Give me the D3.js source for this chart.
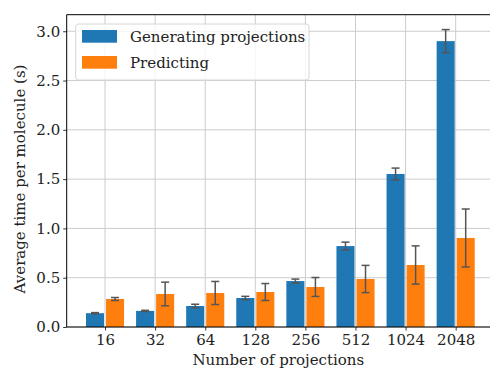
<!DOCTYPE html>
<html>
<head>
<meta charset="utf-8">
<script src="https://cdn.jsdelivr.net/npm/d3@7"></script>
<style>
  html, body { margin: 0; padding: 0; background: #fff; }
  svg { display: block; }
</style>
</head>
<body>
<svg id="chart" width="490" height="370"></svg>
<script>
// Number of projections per molecule
const categories = ["16", "32", "64", "128", "256", "512", "1024", "2048"];
// Average time per molecule (s) and its spread
const generating = [0.140, 0.163, 0.213, 0.294, 0.466, 0.821, 1.552, 2.900];
const generatingErr = [0.006, 0.006, 0.018, 0.017, 0.020, 0.040, 0.060, 0.117];
const predicting = [0.284, 0.335, 0.345, 0.355, 0.406, 0.487, 0.629, 0.903];
const predictingErr = [0.015, 0.120, 0.117, 0.086, 0.096, 0.138, 0.194, 0.294];
const yTicks = [0, 0.5, 1.0, 1.5, 2.0, 2.5, 3.0];
const seriesNames = ["Generating projections", "Predicting"];
const colors = ["#1f77b4", "#ff7f0e"];

const svg = d3.select("#chart");
const serif = "'DejaVu Serif', serif";
const fontSize = 15;

const plot = { left: 66.7, right: 494, top: 14.7, bottom: 327 };

const x = d3.scaleLinear().domain([-0.765, categories.length - 1 + 0.765]).range([plot.left, plot.right]);
const y = d3.scaleLinear().domain([0, 3.168]).range([plot.bottom, plot.top]);

const barW = 0.36, barOff = 0.02;

// Grid lines
const grid = svg.append("g").attr("stroke", "#cccccc").attr("stroke-width", 1);
grid.selectAll("line.h").data(yTicks).join("line")
  .attr("x1", plot.left).attr("x2", plot.right)
  .attr("y1", d => y(d)).attr("y2", d => y(d));
grid.selectAll("line.v").data(categories).join("line")
  .attr("x1", (d, i) => x(i)).attr("x2", (d, i) => x(i))
  .attr("y1", plot.top).attr("y2", plot.bottom);

const series = [
  { values: generating, err: generatingErr, shift: -(barOff + barW), color: colors[0] },
  { values: predicting, err: predictingErr, shift: barOff, color: colors[1] }
];

series.forEach(s => {
  const g = svg.append("g");
  g.selectAll("rect").data(s.values).join("rect")
    .attr("x", (d, i) => x(i + s.shift))
    .attr("width", x(barW) - x(0))
    .attr("y", d => y(d))
    .attr("height", d => y(0) - y(d))
    .attr("fill", s.color);
  const cap = 4;
  const eb = svg.append("g").attr("stroke", "#555").attr("stroke-width", 1.5).attr("fill", "none");
  s.values.forEach((d, i) => {
    const cx = x(i + s.shift + barW / 2);
    const lo = y(d - s.err[i]), hi = y(d + s.err[i]);
    eb.append("line").attr("x1", cx).attr("x2", cx).attr("y1", lo).attr("y2", hi);
    eb.append("line").attr("x1", cx - cap).attr("x2", cx + cap).attr("y1", lo).attr("y2", lo);
    eb.append("line").attr("x1", cx - cap).attr("x2", cx + cap).attr("y1", hi).attr("y2", hi);
  });
});

// Axes
const yAxis = d3.axisLeft(y).tickValues(yTicks).tickFormat(d3.format(".1f")).tickSize(3.5).tickPadding(3);
const yg = svg.append("g").attr("transform", `translate(${plot.left},0)`).call(yAxis);
const xAxis = d3.axisBottom(x).tickValues(d3.range(categories.length)).tickFormat(i => categories[i]).tickSize(3.5).tickPadding(4);
const xg = svg.append("g").attr("transform", `translate(0,${plot.bottom})`).call(xAxis);
[yg, xg].forEach(g => {
  g.select(".domain").remove();
  g.attr("font-family", serif).attr("font-size", fontSize);
  g.selectAll("line").attr("stroke", "#000").attr("stroke-width", 0.8);
  g.selectAll("text").attr("fill", "#222");
});

// Spines
const sp = svg.append("g").attr("stroke", "#000").attr("stroke-width", 1);
sp.append("line").attr("x1", plot.left).attr("x2", plot.left).attr("y1", plot.top).attr("y2", plot.bottom);
sp.append("line").attr("x1", plot.left).attr("x2", plot.right).attr("y1", plot.bottom).attr("y2", plot.bottom);
sp.append("line").attr("x1", plot.left).attr("x2", plot.right).attr("y1", plot.top).attr("y2", plot.top);
sp.append("line").attr("x1", plot.right).attr("x2", plot.right).attr("y1", plot.top).attr("y2", plot.bottom);

// Axis titles
svg.append("text").attr("x", (plot.left + plot.right) / 2 - 2).attr("y", 365)
  .attr("text-anchor", "middle").attr("font-family", serif).attr("font-size", fontSize).attr("fill", "#222")
  .text("Number of projections");
svg.append("text").attr("transform", "translate(25,179) rotate(-90)")
  .attr("text-anchor", "middle").attr("font-family", serif).attr("font-size", fontSize).attr("fill", "#222")
  .text("Average time per molecule (s)");

// Legend
const lg = svg.append("g");
lg.append("rect").attr("x", 75.7).attr("y", 24).attr("width", 233.3).attr("height", 56)
  .attr("rx", 3).attr("fill", "#fff").attr("fill-opacity", 0.8).attr("stroke", "#d6d6d6");
seriesNames.forEach((name, i) => {
  lg.append("rect").attr("x", 82).attr("y", 30 + i * 26).attr("width", 35).attr("height", 12.7).attr("fill", colors[i]);
  lg.append("text").attr("x", 130).attr("y", 42 + i * 26)
    .attr("font-family", serif).attr("font-size", fontSize).attr("fill", "#222").text(name);
});
</script>
</body>
</html>
